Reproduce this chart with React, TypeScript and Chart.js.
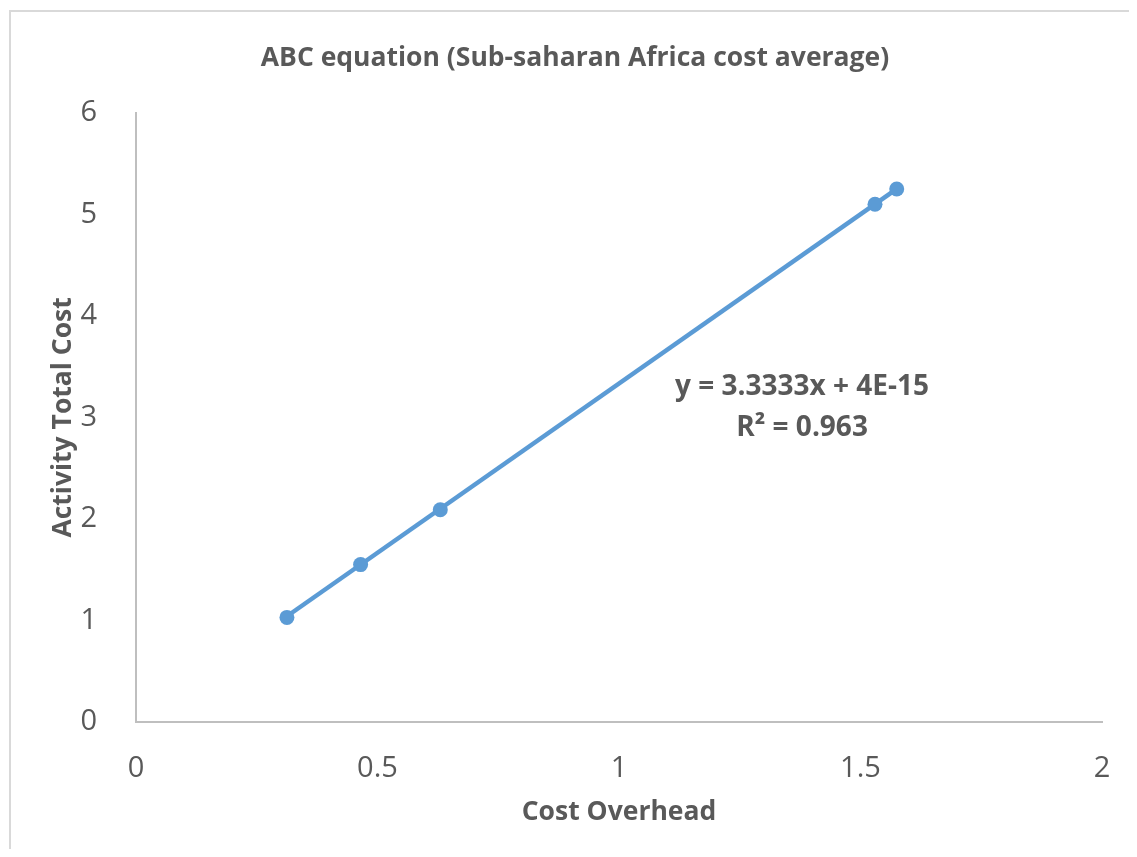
import React, { useEffect, useRef } from "react";
import { Chart, registerables } from "chart.js";

Chart.register(...registerables);

const chartTitle = "ABC equation (Sub-saharan Africa cost average)";
const xAxisTitle = "Cost Overhead";
const yAxisTitle = "Activity Total Cost";
const costOverhead = [0.3125, 0.465, 0.63, 1.53, 1.575];
const activityTotalCost = [1.03, 1.55, 2.09, 5.1, 5.25];
const trendSlope = 3.3333;
const trendIntercept = 4e-15;
const equationText = "y = 3.3333x + 4E-15";
const rSquaredText = "R² = 0.963";
const xTicks = [0, 0.5, 1, 1.5, 2];
const xTickLabels = ["0", "0.5", "1", "1.5", "2"];
const yTicks = [0, 1, 2, 3, 4, 5, 6];
const yTickLabels = ["0", "1", "2", "3", "4", "5", "6"];

const FONT = "'Open Sans', 'Liberation Sans', sans-serif";
const TEXT = "#595959";
const SERIES = "#5b9bd5";

export default function App() {
  const ref = useRef<HTMLCanvasElement | null>(null);

  useEffect(() => {
    if (!ref.current) return;
    const xMin = Math.min(...costOverhead);
    const xMax = Math.max(...costOverhead);
    const trend = [xMin, xMax].map((x) => ({ x, y: trendSlope * x + trendIntercept }));

    const extras = {
      id: "extras",
      afterDraw(chart: any) {
        const ctx = chart.ctx;
        const xs = chart.scales.x;
        const ys = chart.scales.y;
        ctx.save();
        // chart frame (left & top visible)
        ctx.strokeStyle = "#d9d9d9";
        ctx.lineWidth = 2;
        ctx.beginPath();
        ctx.moveTo(2, chart.height);
        ctx.lineTo(2, 3);
        ctx.lineTo(chart.width, 3);
        ctx.stroke();
        // trendline label
        ctx.fillStyle = TEXT;
        ctx.font = `bold 28px ${FONT}`;
        ctx.textAlign = "center";
        ctx.textBaseline = "middle";
        const cx = xs.getPixelForValue(1.379);
        ctx.fillText(equationText, cx, ys.getPixelForValue(3.3));
        ctx.fillText(rSquaredText, cx, ys.getPixelForValue(2.897));
        ctx.restore();
      },
    };

    const chart = new Chart(ref.current, {
      type: "scatter",
      data: {
        datasets: [
          {
            label: "Trendline",
            data: trend,
            showLine: true,
            borderColor: SERIES,
            borderWidth: 4.5,
            pointRadius: 0,
            order: 2,
          },
          {
            label: "Activity Total Cost",
            data: costOverhead.map((x, i) => ({ x, y: activityTotalCost[i] })),
            showLine: false,
            backgroundColor: SERIES,
            borderColor: SERIES,
            pointRadius: 7.5,
            pointBorderWidth: 0,
            order: 1,
          },
        ],
      },
      options: {
        responsive: false,
        animation: false,
        layout: { padding: { left: 40, right: 27, top: 0, bottom: 0 } },
        plugins: {
          legend: { display: false },
          tooltip: { enabled: false },
          title: {
            display: true,
            text: chartTitle,
            color: TEXT,
            font: { family: FONT, size: 26.5, weight: "bold", lineHeight: 1.2 },
            padding: { top: 35, bottom: 38 },
          },
        },
        scales: {
          x: {
            type: "linear",
            min: 0,
            max: 2,
            afterBuildTicks: (s: any) => {
              s.ticks = xTicks.map((v) => ({ value: v }));
            },
            afterFit: (s: any) => {
              s.height = 127;
              s.paddingLeft = 0;
              s.paddingRight = 0;
            },
            grid: { display: false },
            border: { display: true, color: "#bfbfbf", width: 2 },
            ticks: {
              color: TEXT,
              padding: 21,
              font: { family: FONT, size: 29 },
              callback: (_v: any, i: number) => xTickLabels[i],
            },
            title: {
              display: true,
              text: xAxisTitle,
              color: TEXT,
              font: { family: FONT, size: 26.5, weight: "bold", lineHeight: 1.2 },
              padding: { top: 0, bottom: 21 },
            },
          },
          y: {
            type: "linear",
            min: 0,
            max: 6,
            afterBuildTicks: (s: any) => {
              s.ticks = yTicks.map((v) => ({ value: v }));
            },
            afterFit: (s: any) => {
              s.width = 88;
              s.paddingTop = 0;
              s.paddingBottom = 0;
            },
            grid: { display: false },
            border: { display: true, color: "#bfbfbf", width: 2 },
            ticks: {
              color: TEXT,
              padding: 31,
              font: { family: FONT, size: 29 },
              callback: (_v: any, i: number) => yTickLabels[i],
            },
            title: {
              display: true,
              text: yAxisTitle,
              color: TEXT,
              font: { family: FONT, size: 26.5, weight: "bold", lineHeight: 1.2 },
              padding: { top: 0, bottom: 0 },
            },
          },
        },
      },
      plugins: [extras],
    });
    return () => chart.destroy();
  }, []);

  return <canvas ref={ref} width={1121} height={841} style={{ display: "block" }} />;
}
